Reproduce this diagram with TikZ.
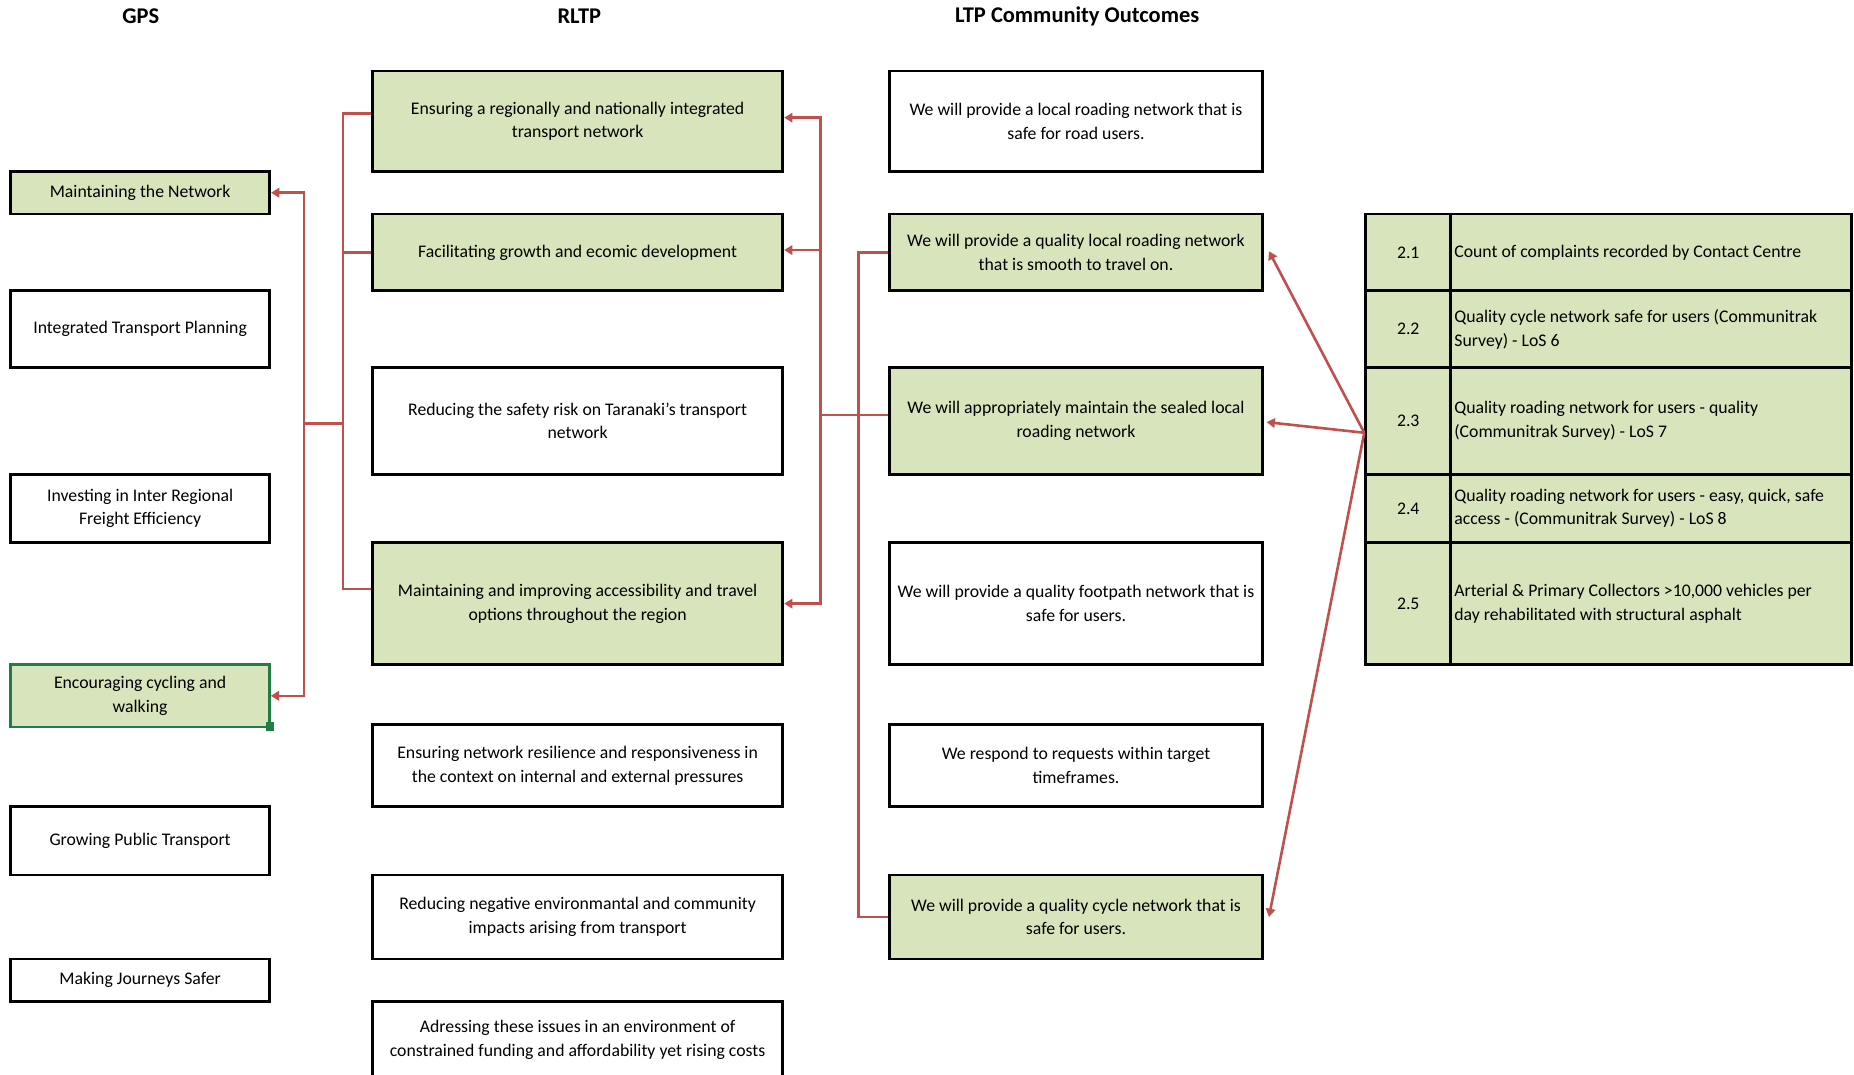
\documentclass[tikz,border=0pt]{standalone}
\usepackage{fontspec}
\setmainfont{Carlito}
\usetikzlibrary{arrows.meta}
\definecolor{boxgreen}{RGB}{216,228,188}
\definecolor{linkred}{RGB}{192,80,77}
\definecolor{selgreen}{RGB}{33,125,70}

\begin{document}
\begin{tikzpicture}[x=1pt, y=-1pt,
    box/.style={draw=black, line width=2.4pt, fill=white, align=center, inner sep=2pt,
        font=\fontsize{15}{20}\selectfont},
    greenbox/.style={box, fill=boxgreen},
    gpscol/.style={minimum width=219pt},
    rltpcol/.style={minimum width=347pt},
    ltpcol/.style={minimum width=316pt},
    numcell/.style={greenbox, minimum width=72pt},
    textcell/.style={greenbox, text width=333pt, inner xsep=3pt, align=flush left},
    heading/.style={font=\fontsize{19}{22}\selectfont\bfseries},
    link/.style={draw=linkred, line width=2.2pt},
    arrowlink/.style={link, -{Triangle[length=7pt,width=8pt]}}
]
\useasboundingbox (0,0) rectangle (1568,909);
\clip (0,0) rectangle (1568,909);

% column headings
\node[heading] (hgps) at (119,14) {GPS};
\node[heading] (hrltp) at (490,14) {RLTP};
\node[heading] (hltp) at (911,14) {LTP Community Outcomes};

% GPS
\node[greenbox, gpscol, minimum height=36pt] (mtn) at (118.5,163) {Maintaining the Network};
\node[box, gpscol, minimum height=65pt] (itp) at (118.5,278.5) {Integrated Transport Planning};
\node[box, gpscol, minimum height=58pt] (iirf) at (118.5,430) {Investing in Inter Regional\\Freight Efficiency};
\node[greenbox, gpscol, draw=selgreen, line width=2pt, minimum height=53pt] (ecw) at (118.5,588.5) {Encouraging cycling and\\walking};
\node[box, gpscol, minimum height=58pt] (gpt) at (118.5,711) {Growing Public Transport};
\node[box, gpscol, minimum height=36pt] (mjs) at (118.5,829) {Making Journeys Safer};
\fill[selgreen] (225,611) rectangle (232,618);

% RLTP
\node[greenbox, rltpcol, minimum height=85pt] (rint) at (488.5,102.5) {Ensuring a regionally and nationally integrated\\transport network};
\node[greenbox, rltpcol, minimum height=65pt] (rgro) at (488.5,213.5) {Facilitating growth and ecomic development};
\node[box, rltpcol, minimum height=90pt] (rsaf) at (488.5,356) {Reducing the safety risk on Taranaki's transport\\network};
\node[greenbox, rltpcol, minimum height=103pt] (racc) at (488.5,510.5) {Maintaining and improving accessibility and travel\\options throughout the region};
\node[box, rltpcol, minimum height=69pt] (rres) at (488.5,647.5) {Ensuring network resilience and responsiveness in\\the context on internal and external pressures};
\node[box, rltpcol, minimum height=71pt] (renv) at (488.5,775.5) {Reducing negative environmantal and community\\impacts arising from transport};
\node[box, rltpcol, minimum height=65pt] (rfun) at (488.5,879.5) {Adressing these issues in an environment of\\constrained funding and affordability yet rising costs};

% LTP community outcomes
\node[box, ltpcol, minimum height=85pt] (lsafe) at (910,102.5) {We will provide a local roading network that is\\safe for road users.};
\node[greenbox, ltpcol, minimum height=65pt] (lsmooth) at (910,213.5) {We will provide a quality local roading network\\that is smooth to travel on.};
\node[greenbox, ltpcol, minimum height=90pt] (lseal) at (910,356) {We will appropriately maintain the sealed local\\roading network};
\node[box, ltpcol, minimum height=103pt] (lfoot) at (910,510.5) {We will provide a quality footpath network that is\\safe for users.};
\node[box, ltpcol, minimum height=69pt] (lresp) at (910,647.5) {We respond to requests within target\\timeframes.};
\node[greenbox, ltpcol, minimum height=71pt] (lcycle) at (910,775.5) {We will provide a quality cycle network that is\\safe for users.};

% measures table
\node[numcell, minimum height=65pt] (n21) at (1191,213.5) {2.1};
\node[numcell, minimum height=65pt] (n22) at (1191,278.5) {2.2};
\node[numcell, minimum height=90pt] (n23) at (1191,356) {2.3};
\node[numcell, minimum height=58pt] (n24) at (1191,430) {2.4};
\node[numcell, minimum height=103pt] (n25) at (1191,510.5) {2.5};
\node[textcell, minimum height=65pt] (t21) at (1396.5,213.5) {Count of complaints recorded by Contact Centre};
\node[textcell, minimum height=65pt] (t22) at (1396.5,278.5) {Quality cycle network safe for users (Communitrak\\Survey) - LoS 6};
\node[textcell, minimum height=90pt] (t23) at (1396.5,356) {Quality roading network for users - quality\\(Communitrak Survey) - LoS 7};
\node[textcell, minimum height=58pt] (t24) at (1396.5,430) {Quality roading network for users - easy, quick, safe\\access - (Communitrak Survey) - LoS 8};
\node[textcell, minimum height=103pt] (t25) at (1396.5,510.5) {Arterial \& Primary Collectors >10,000 vehicles per\\day rehabilitated with structural asphalt};

% GPS to RLTP links
\coordinate (gbus) at (257,358);
\coordinate (lbus) at (290,358);
\draw[arrowlink] (gbus) |- (mtn.east);
\draw[arrowlink] (gbus) |- (ecw.east);
\draw[link] (gbus) -- (lbus);
\draw[link] (lbus) |- ([yshift=6.5pt]rint.west);
\draw[link] (lbus) |- (rgro.west);
\draw[link] (lbus) |- ([yshift=12.5pt]racc.west);

% RLTP to LTP links
\coordinate (rbus) at (694,351);
\coordinate (obus) at (726,500);
\draw[arrowlink] (rbus) |- ([yshift=3pt]rint.east);
\draw[arrowlink] (rbus) |- ([yshift=2pt]rgro.east);
\draw[arrowlink] (rbus) |- (racc.east);
\draw[link] (rbus) -- ([yshift=5pt]lseal.west);
\draw[link] (obus) |- (lsmooth.west);
\draw[link] (obus) |- (lcycle.west);

% measures to outcomes
\draw[arrowlink] ([yshift=-10pt]n23.west) -- ([xshift=4pt,yshift=1pt]lsmooth.east);
\draw[arrowlink] ([yshift=-10pt]n23.west) -- ([xshift=2pt,yshift=-1pt]lseal.east);
\draw[arrowlink] ([yshift=-10pt]n23.west) -- ([xshift=4pt]lcycle.east);
\end{tikzpicture}
\end{document}
